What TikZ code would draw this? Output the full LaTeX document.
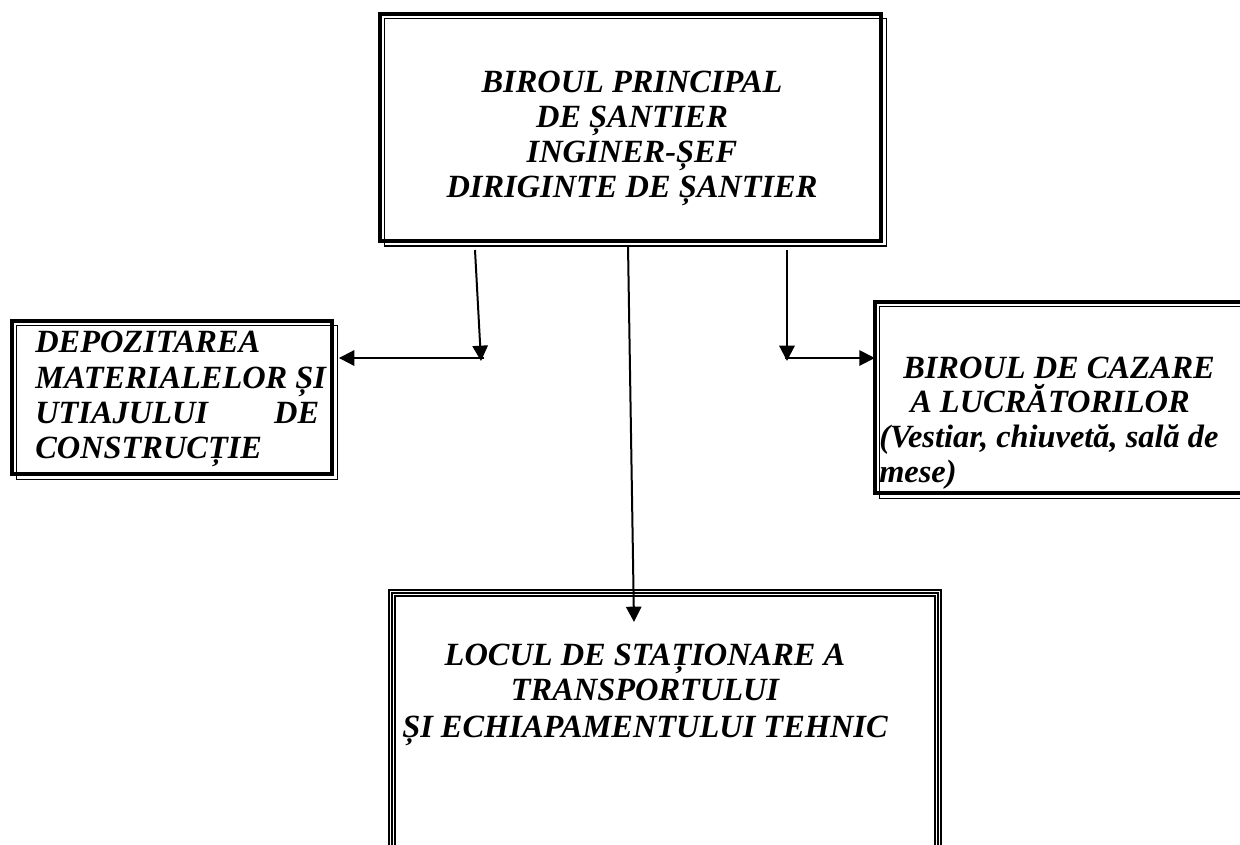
\documentclass[tikz,border=0pt]{standalone}
\usepackage{fontspec}
\setmainfont{Liberation Serif}
\usetikzlibrary{arrows.meta,fit}
\tikzset{
  frame/.style={inner sep=0pt, draw=none},
  thickln/.style={line width=3pt},
  thinln/.style={line width=1.1pt},
  arr/.style={line width=1.5pt, -{Triangle[length=11.5pt,width=11.5pt]}},
  txt/.style={font=\fontsize{24.3}{27}\selectfont\bfseries\itshape, inner sep=0pt},
}
\newcommand\wframe[1]{%
  \draw[thickln] (#1.north west) rectangle (#1.south east);
  \draw[thinln] ([shift={(5,5)}]#1.north west) rectangle ([shift={(5,5)}]#1.south east);}
\begin{document}
\begin{tikzpicture}[x=0.75pt,y=-0.75pt]
\clip (0,0) rectangle (1240,844);
\fill[white] (0,0) rectangle (1240,844);
% boxes
\node[frame, fit={(380,14) (881,240.5)}] (top) {};
\node[frame, fit={(12,321) (332,474)}] (dep) {};
\node[frame, fit={(875,302) (1260,493)}] (caz) {};
\node[frame, fit={(389,590) (941,900)}] (loc) {};
\wframe{top}
\wframe{dep}
\wframe{caz}
\draw[line width=1.3pt] (loc.north west) rectangle (loc.south east);
\draw[line width=1.3pt] ([shift={(3,3)}]loc.north west) rectangle ([shift={(-3,-3)}]loc.south east);
\draw[line width=1.3pt] ([shift={(6,6)}]loc.north west) rectangle ([shift={(-6,-6)}]loc.south east);
% texts
\node[txt, anchor=base] (t1) at (632,92) {BIROUL PRINCIPAL};
\node[txt, anchor=base] (t2) at (632,127) {DE ȘANTIER};
\node[txt, anchor=base] (t3) at (632,162) {INGINER-ȘEF};
\node[txt, anchor=base] (t4) at (632,197) {DIRIGINTE DE ȘANTIER};
\node[txt, anchor=base west] (d1) at (35,352) {DEPOZITAREA};
\node[txt, anchor=base west] (d2) at (35,388) {MATERIALELOR ȘI};
\node[txt, anchor=base west, text width=213pt] (d3) at (35,423) {UTIAJULUI\hfill DE};
\node[txt, anchor=base west] (d4) at (35,458) {CONSTRUCȚIE};
\node[txt, anchor=base west] (c1) at (903,378) {BIROUL DE CAZARE};
\node[txt, anchor=base west] (c2) at (910,412) {A LUCRĂTORILOR};
\node[txt, anchor=base west] (c3) at (879,447) {(Vestiar, chiuvetă, sală de};
\node[txt, anchor=base west] (c4) at (879,482) {mese)};
\node[txt, anchor=base] (l1) at (645,665) {LOCUL DE STAȚIONARE A};
\node[txt, anchor=base] (l2) at (645,700) {TRANSPORTULUI};
\node[txt, anchor=base] (l3) at (645,737) {ȘI ECHIAPAMENTULUI TEHNIC};
% connectors
\coordinate (a1) at (475,250);
\coordinate (a2) at (481,361);
\coordinate (a3) at (484,358);
\coordinate (b1) at (787,250);
\coordinate (b2) at (787,361);
\coordinate (b3) at (785,358);
\coordinate (m1) at (628,245);
\coordinate (m2) at (634,622);
\draw[arr] (a1) -- (a2);
\draw[arr] (a3) -- ([xshift=5]a3 -| dep.east);
\draw[arr] (b1) -- (b2);
\draw[arr] (b3) -- (b3 -| caz.west);
\draw[arr] (m1) -- (m2);
\end{tikzpicture}
\end{document}
